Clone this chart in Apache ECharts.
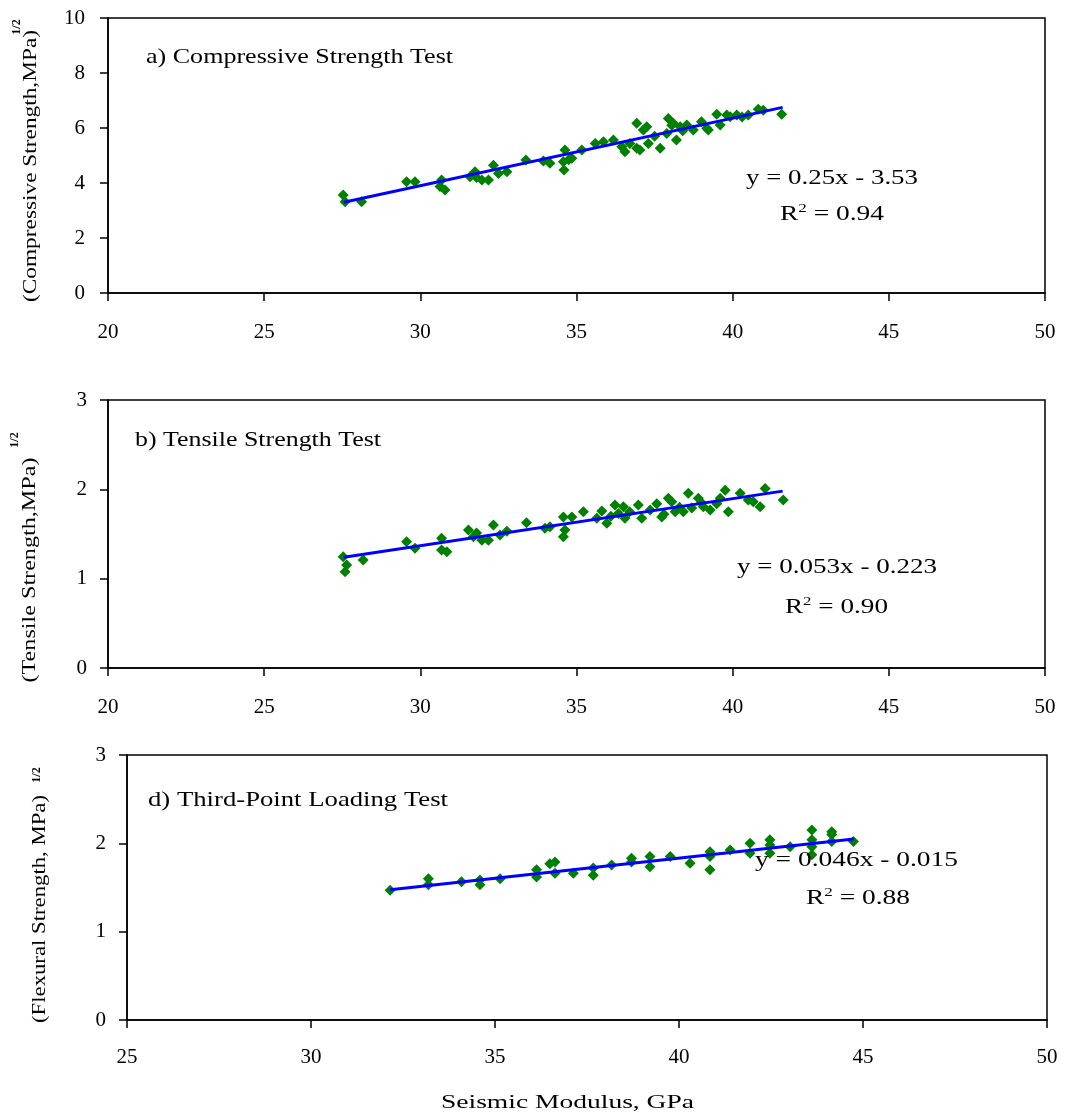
<!DOCTYPE html>
<html><head><meta charset="utf-8">
<script src="https://cdn.jsdelivr.net/npm/echarts@6/dist/echarts.min.js"></script>
<style>html,body{margin:0;padding:0;background:#fff}#c{width:1065px;height:1117px}</style>
</head><body><div id="c"></div>
<script>
// ---------- data ----------
const compX = [27.53,27.59,28.12,29.56,29.83,30.68,30.63,30.79,31.59,31.75,31.8,31.97,32.18,32.34,32.5,32.77,33.38,33.94,34.15,34.63,34.58,34.6,34.75,34.85,35.17,35.6,35.86,36.18,36.45,36.55,36.71,36.93,36.93,37.03,37.14,37.25,37.3,37.5,37.68,37.89,37.94,38.05,38.1,38.2,38.32,38.4,38.53,38.74,39.0,39.17,39.22,39.49,39.6,39.81,39.92,40.13,40.3,40.5,40.82,40.98,41.57];
const compY = [3.56,3.32,3.32,4.05,4.05,4.11,3.87,3.75,4.23,4.41,4.2,4.11,4.11,4.65,4.35,4.41,4.84,4.8,4.72,5.2,4.77,4.47,4.85,4.9,5.2,5.44,5.5,5.56,5.32,5.14,5.44,6.17,5.26,5.2,5.93,6.05,5.44,5.7,5.26,5.8,6.35,6.1,6.17,5.56,6.05,5.9,6.11,5.93,6.23,5.99,5.93,6.5,6.11,6.47,6.41,6.47,6.4,6.47,6.68,6.65,6.5];
const tensX = [27.53,27.64,27.59,28.17,29.56,29.83,30.68,30.68,30.85,31.54,31.7,31.8,31.97,32.18,32.34,32.55,32.77,33.4,33.99,34.15,34.58,34.63,34.58,34.85,35.22,35.65,35.81,35.97,36.1,36.23,36.34,36.5,36.55,36.7,36.98,37.09,37.36,37.57,37.73,37.8,37.94,38.05,38.16,38.3,38.42,38.58,38.69,38.9,39.0,39.06,39.28,39.49,39.6,39.76,39.86,40.24,40.5,40.66,40.88,41.04,41.62];
const tensY = [1.246,1.153,1.078,1.209,1.414,1.34,1.452,1.32,1.30,1.545,1.47,1.51,1.43,1.43,1.60,1.49,1.53,1.627,1.564,1.58,1.69,1.545,1.47,1.69,1.75,1.676,1.757,1.62,1.70,1.825,1.73,1.806,1.676,1.75,1.825,1.676,1.77,1.84,1.69,1.72,1.90,1.86,1.75,1.80,1.75,1.955,1.79,1.90,1.85,1.806,1.77,1.84,1.90,1.99,1.75,1.955,1.88,1.86,1.806,2.01,1.88];
const flexX = [32.15,33.19,33.19,34.09,34.59,34.59,35.14,36.13,36.13,36.49,36.63,36.63,37.13,37.67,37.67,38.17,38.71,38.71,39.21,39.21,39.76,40.30,40.84,40.84,40.84,41.39,41.93,41.93,42.47,42.47,42.47,43.02,43.61,43.61,43.61,43.61,44.15,44.15,44.15,44.74];
const flexY = [1.47,1.60,1.53,1.566,1.585,1.53,1.60,1.70,1.62,1.77,1.79,1.66,1.66,1.72,1.64,1.755,1.83,1.79,1.85,1.735,1.85,1.775,1.905,1.85,1.70,1.925,2.0,1.887,2.04,1.98,1.887,1.96,2.15,2.04,1.96,1.87,2.13,2.10,2.02,2.02];
// trendline end points (x, y) as drawn
const trendCompX = [27.55, 41.6], trendCompY = [3.30, 6.75];
const trendTensX = [27.55, 41.6], trendTensY = [1.24, 1.98];
const trendFlexX = [32.15, 44.75], trendFlexY = [1.475, 2.05];
// axis ranges / ticks
const xRangeAB = [20, 50], xRangeC = [25, 50], xStep = 5;
const yRangeA = [0, 10], yStepA = 2;
const yRangeBC = [0, 3], yStepBC = 1;
// texts
const panelTitles = ['a) Compressive Strength Test', 'b) Tensile Strength Test', 'd) Third-Point Loading Test'];
const equations = ['y = 0.25x - 3.53', 'y = 0.053x - 0.223', 'y = 0.046x - 0.015'];
const r2Values = ['0.94', '0.90', '0.88'];
const yTitles = ['(Compressive Strength,MPa)', '(Tensile Strength,MPa)', '(Flexural Strength, MPa)'];
const xTitle = 'Seismic Modulus, GPa';

// ---------- helpers ----------
const FF = '"Liberation Serif", "Times New Roman", serif';
const cv = document.createElement('canvas').getContext('2d');
function tw(t, s) { cv.font = s + 'px ' + FF; return cv.measureText(t).width; }
const pairs = (xs, ys) => xs.map((x, i) => [x, ys[i]]);

const grids = [
  { left: 108, right: 20, top: 18, height: 275 },
  { left: 108, right: 20, top: 400, height: 268 },
  { left: 127, right: 18, top: 755, height: 265 }
].map(g => Object.assign({ show: true, borderColor: '#000', borderWidth: 1.5, backgroundColor: '#fff' }, g));

function xAx(i, r, margin) {
  return { gridIndex: i, type: 'value', min: r[0], max: r[1], interval: xStep,
    axisLine: { onZero: false, lineStyle: { color: '#000', width: 1.5 } },
    axisTick: { length: 8, lineStyle: { color: '#000', width: 1.5 } },
    axisLabel: { color: '#000', fontFamily: FF, fontSize: 21, margin: margin },
    splitLine: { show: false } };
}
function yAx(i, r, step, margin) {
  return { gridIndex: i, type: 'value', min: r[0], max: r[1], interval: step,
    axisLine: { show: true, onZero: false, lineStyle: { color: '#000', width: 1.5 } },
    axisTick: { show: true, length: 8, lineStyle: { color: '#000', width: 1.5 } },
    axisLabel: { color: '#000', fontFamily: FF, fontSize: 21, margin: margin },
    splitLine: { show: false } };
}
function scat(i, xs, ys) {
  return { type: 'scatter', xAxisIndex: i, yAxisIndex: i, data: pairs(xs, ys), symbol: 'diamond',
    symbolSize: 11, itemStyle: { color: '#008000', opacity: 1 }, z: 2 };
}
function trend(i, xs, ys) {
  return { type: 'line', xAxisIndex: i, yAxisIndex: i, data: pairs(xs, ys), symbol: 'none',
    lineStyle: { color: '#0000FF', width: 3 }, z: 3 };
}

const graphics = [];
function leftText(t, x, y, size, target) {
  const w = tw(t, size);
  graphics.push({ type: 'text', x: x, y: y, scaleX: target / w, z: 10,
    style: { text: t, font: size + 'px ' + FF, fill: '#000', textAlign: 'left', textVerticalAlign: 'middle' } });
}
function r2Text(v, x, y, target) {
  const w = tw('R', 21) + tw('2', 13) + tw(' = ' + v, 21);
  graphics.push({ type: 'text', x: x, y: y, scaleX: target / w, z: 10,
    style: { text: 'R{s|2} = ' + v, fontFamily: FF, fontSize: 21, fill: '#000', textAlign: 'left',
      textVerticalAlign: 'middle', lineHeight: 24,
      rich: { s: { fontFamily: FF, fontSize: 13, lineHeight: 13, verticalAlign: 'top', fill: '#000' } } } });
}
function rotText(t, cx, cy, size, target) {
  const w = tw(t, size);
  graphics.push({ type: 'text', x: cx, y: cy, rotation: Math.PI / 2, scaleX: target / w, z: 10,
    style: { text: t, font: size + 'px ' + FF, fill: '#000', textAlign: 'center', textVerticalAlign: 'middle' } });
}
function rotSup(cx, cy) {
  graphics.push({ type: 'text', x: cx, y: cy, rotation: Math.PI / 2, z: 10,
    style: { text: '1/2', font: 'bold 12px ' + FF, fill: '#000', textAlign: 'center', textVerticalAlign: 'middle' } });
}

leftText(panelTitles[0], 146, 57, 21, 307);
leftText(panelTitles[1], 135, 440, 21, 246);
leftText(panelTitles[2], 148, 800, 21, 300);
leftText(equations[0], 746, 178, 21, 172);
leftText(equations[1], 737, 567, 21, 200);
leftText(equations[2], 755, 860, 21, 203);
r2Text(r2Values[0], 780, 214, 104);
r2Text(r2Values[1], 785, 607, 103);
r2Text(r2Values[2], 806, 898, 104);
leftText(xTitle, 441, 1103, 19, 253);
rotText(yTitles[0], 31, 166, 18, 272);
rotText(yTitles[1], 30, 570, 18, 225);
rotText(yTitles[2], 40, 909, 18, 228);
rotSup(17, 27);
rotSup(15, 440);
rotSup(37, 775);

const chart = echarts.init(document.getElementById('c'), null, { renderer: 'canvas' });
chart.setOption({
  animation: false,
  backgroundColor: '#fff',
  grid: grids,
  xAxis: [xAx(0, xRangeAB, 29), xAx(1, xRangeAB, 29), xAx(2, xRangeC, 27)],
  yAxis: [yAx(0, yRangeA, yStepA, 23), yAx(1, yRangeBC, yStepBC, 21), yAx(2, yRangeBC, yStepBC, 21)],
  series: [scat(0, compX, compY), scat(1, tensX, tensY), scat(2, flexX, flexY),
           trend(0, trendCompX, trendCompY), trend(1, trendTensX, trendTensY), trend(2, trendFlexX, trendFlexY)],
  graphic: graphics
});
</script></body></html>
